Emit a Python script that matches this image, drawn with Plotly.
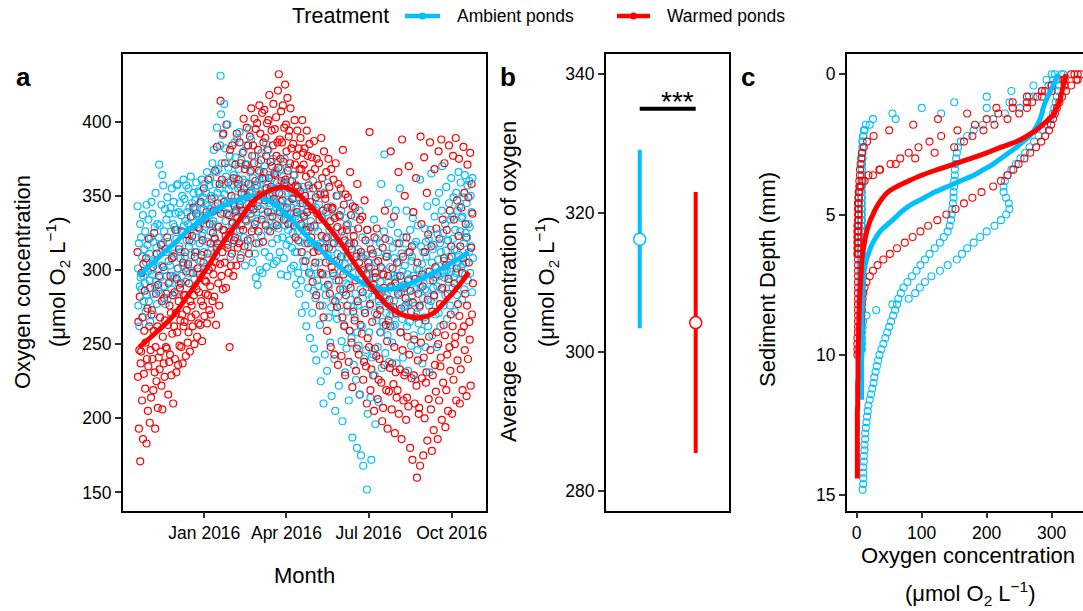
import numpy as np
import pandas as pd
import plotly.graph_objects as go

W, H = 1083, 611
AMB = "#00BFFF"
WRM = "#FF0000"
FONT = "Arial, 'Liberation Sans', sans-serif"
UNIT = "(μmol O<sub>2</sub> L<sup>−1</sup>)"

# ---------------- panel a: oxygen logger readings
# one row per 4-day block, readings 12 h apart inside a block
sample_start = "2015-10-19"
block_days = 4
reading_hours = 12
ambient_o2 = [
    [343, 301, 276, 318, 262, 289, 331, 295], [322, 287, 309, 268, 337, 296, 279, 314],
    [291, 326, 272, 305, 344, 283, 317, 299], [334, 279, 311, 293, 265, 322, 300, 346],
    [297, 338, 284, 319, 270, 306, 329, 289], [352, 292, 315, 277, 331, 301, 286, 322],
    [371, 330, 295, 312, 284, 344, 303, 364], [318, 357, 289, 326, 300, 341, 277, 312],
    [334, 296, 349, 281, 319, 306, 338, 292], [303, 342, 326, 287, 355, 314, 296, 331],
    [346, 311, 329, 295, 338, 284, 321, 357], [327, 358, 301, 339, 290, 316, 345, 308],
    [312, 337, 296, 350, 325, 303, 361, 330], [348, 309, 333, 292, 357, 320, 339, 301],
    [331, 355, 316, 342, 298, 327, 363, 310], [319, 345, 336, 304, 352, 329, 294, 341],
    [347, 322, 359, 312, 338, 299, 331, 353], [336, 352, 318, 345, 306, 333, 361, 323],
    [325, 349, 341, 312, 358, 335, 302, 344], [352, 331, 366, 319, 343, 308, 337, 357],
    [341, 362, 326, 350, 315, 339, 372, 331], [333, 381, 349, 322, 358, 343, 310, 366],
    [396, 352, 330, 368, 341, 317, 355, 384], [431, 405, 348, 372, 327, 391, 339, 358],
    [412, 351, 382, 333, 363, 318, 345, 398], [338, 369, 354, 323, 377, 346, 309, 360],
    [357, 331, 372, 345, 318, 364, 339, 386], [349, 376, 330, 362, 341, 389, 321, 355],
    [368, 342, 393, 327, 356, 310, 374, 347], [336, 361, 348, 380, 322, 352, 303, 371],
    [359, 384, 333, 350, 371, 316, 345, 395], [341, 366, 321, 357, 388, 336, 352, 305],
    [362, 328, 348, 377, 311, 355, 295, 339], [333, 357, 290, 346, 372, 318, 361, 300],
    [366, 341, 323, 379, 350, 298, 337, 361], [344, 370, 312, 355, 331, 385, 302, 349],
    [358, 327, 381, 345, 309, 364, 336, 373], [339, 362, 318, 350, 375, 329, 304, 347],
    [355, 331, 367, 342, 306, 359, 321, 344], [328, 356, 339, 312, 368, 346, 297, 336],
    [351, 322, 343, 363, 308, 338, 375, 330], [334, 358, 317, 345, 296, 352, 327, 369],
    [346, 320, 360, 331, 301, 342, 315, 352], [325, 349, 303, 338, 364, 312, 336, 290],
    [341, 312, 355, 326, 298, 334, 284, 347], [319, 345, 293, 338, 271, 330, 356, 306],
    [337, 302, 352, 318, 276, 329, 262, 344], [310, 341, 288, 327, 355, 298, 254, 319],
    [333, 297, 346, 271, 318, 360, 286, 247], [302, 329, 281, 342, 239, 315, 293, 351],
    [326, 289, 344, 305, 263, 318, 225, 337], [297, 335, 276, 318, 210, 352, 288, 243],
    [321, 283, 339, 297, 232, 310, 359, 268], [289, 327, 306, 251, 343, 275, 215, 318],
    [314, 280, 336, 296, 240, 322, 205, 271], [293, 328, 267, 311, 350, 282, 222, 305],
    [318, 276, 299, 340, 252, 309, 198, 287], [285, 323, 263, 304, 231, 335, 291, 247],
    [309, 272, 331, 290, 212, 316, 259, 345], [280, 318, 254, 302, 187, 327, 275, 236],
    [303, 268, 336, 284, 226, 311, 180, 258], [276, 314, 249, 298, 340, 216, 287, 175],
    [299, 262, 322, 281, 168, 308, 240, 273], [271, 310, 246, 293, 152, 327, 203, 284],
    [297, 258, 318, 276, 214, 302, 172, 241], [282, 309, 243, 295, 334, 229, 271, 196],
    [305, 266, 321, 287, 248, 312, 211, 279], [276, 318, 292, 258, 358, 234, 301, 265],
    [297, 262, 326, 378, 281, 244, 309, 271], [283, 311, 256, 345, 292, 238, 320, 269],
    [302, 274, 331, 288, 251, 315, 262, 296], [279, 308, 263, 294, 340, 270, 237, 318],
    [296, 325, 272, 305, 283, 355, 258, 289], [285, 311, 267, 299, 241, 322, 290, 275],
    [303, 276, 318, 289, 340, 262, 297, 232], [278, 312, 294, 265, 327, 286, 249, 306],
    [309, 283, 335, 296, 256, 317, 276, 226], [287, 319, 270, 301, 246, 330, 292, 264],
    [300, 275, 361, 288, 316, 259, 304, 237], [281, 312, 295, 268, 328, 287, 248, 319],
    [309, 286, 343, 299, 262, 321, 276, 231], [293, 327, 279, 365, 305, 256, 314, 288],
    [317, 282, 336, 295, 270, 346, 301, 248], [289, 324, 307, 271, 352, 296, 318, 262],
    [312, 287, 340, 370, 298, 325, 276, 306], [295, 331, 283, 313, 356, 300, 267, 320],
    [320, 292, 345, 308, 276, 334, 299, 362], [301, 336, 288, 321, 349, 295, 314, 272],
    [327, 298, 352, 313, 283, 340, 305, 366], [310, 343, 293, 326, 359, 302, 335, 280],
    [336, 304, 349, 318, 287, 364, 297, 325], [305, 345, 322, 357, 293, 331, 312, 360],
    [329, 298, 350, 316, 339, 285, 362, 308],
]
warmed_o2 = [
    [312, 228, 265, 193, 246, 282, 171, 237], [245, 298, 212, 268, 186, 304, 230, 259],
    [286, 220, 251, 308, 183, 240, 274, 205], [235, 321, 262, 197, 288, 246, 214, 270],
    [273, 240, 302, 219, 259, 325, 231, 193], [248, 284, 225, 311, 262, 207, 290, 241],
    [296, 233, 268, 245, 317, 222, 279, 206], [255, 302, 237, 281, 228, 266, 314, 248],
    [284, 247, 322, 263, 216, 291, 238, 276], [243, 296, 271, 229, 308, 257, 283, 210],
    [309, 262, 285, 240, 327, 271, 231, 294], [258, 301, 236, 279, 314, 249, 288, 266],
    [291, 248, 326, 270, 237, 305, 262, 283], [265, 312, 283, 242, 299, 273, 324, 251],
    [304, 258, 291, 320, 245, 279, 336, 268], [276, 323, 262, 298, 342, 283, 250, 309],
    [312, 270, 338, 287, 255, 301, 329, 264], [285, 328, 297, 263, 346, 279, 310, 252],
    [320, 276, 305, 355, 269, 293, 334, 284], [292, 339, 264, 311, 283, 361, 300, 273],
    [331, 289, 318, 270, 348, 302, 279, 325], [297, 340, 282, 321, 367, 305, 263, 315],
    [383, 318, 345, 291, 329, 276, 358, 304], [414, 338, 296, 361, 312, 287, 392, 327],
    [346, 305, 372, 323, 288, 398, 338, 315], [317, 359, 298, 337, 248, 381, 326, 303],
    [350, 311, 384, 332, 296, 362, 320, 343], [322, 371, 340, 303, 392, 335, 315, 358],
    [361, 318, 386, 344, 308, 372, 330, 352], [340, 379, 327, 402, 355, 316, 368, 334],
    [371, 333, 396, 349, 320, 384, 358, 311], [352, 390, 338, 367, 409, 326, 377, 345],
    [384, 341, 372, 402, 331, 360, 395, 318], [357, 399, 343, 381, 326, 367, 411, 350],
    [392, 351, 374, 334, 406, 362, 319, 386], [366, 408, 347, 389, 330, 377, 355, 399],
    [381, 339, 401, 362, 418, 350, 326, 373], [356, 394, 370, 336, 384, 412, 348, 365],
    [395, 364, 345, 403, 377, 330, 386, 421], [369, 432, 352, 388, 339, 375, 407, 360],
    [386, 347, 411, 373, 334, 396, 359, 425], [361, 398, 380, 342, 416, 367, 331, 390],
    [394, 355, 372, 409, 338, 382, 360, 348], [348, 385, 364, 330, 401, 371, 322, 357],
    [377, 339, 394, 356, 320, 382, 349, 368], [353, 389, 331, 368, 312, 401, 345, 379],
    [371, 336, 382, 350, 306, 363, 327, 394], [339, 377, 318, 357, 298, 385, 346, 329],
    [365, 322, 376, 341, 292, 355, 312, 387], [330, 368, 305, 349, 283, 375, 338, 316],
    [357, 313, 372, 334, 276, 351, 298, 389], [323, 362, 297, 340, 268, 380, 315, 351],
    [348, 305, 366, 322, 259, 342, 290, 375], [315, 356, 284, 333, 248, 368, 302, 341],
    [342, 298, 361, 318, 243, 335, 279, 372], [306, 350, 275, 329, 236, 358, 293, 337],
    [336, 287, 355, 309, 242, 326, 268, 381], [297, 344, 262, 320, 229, 351, 283, 330],
    [327, 276, 349, 301, 238, 318, 259, 366], [288, 337, 251, 314, 221, 343, 272, 323],
    [318, 266, 342, 293, 232, 309, 247, 358], [279, 328, 243, 305, 216, 334, 263, 312],
    [309, 257, 336, 285, 226, 300, 238, 347], [271, 320, 235, 297, 210, 327, 254, 305],
    [302, 248, 393, 277, 219, 314, 233, 288], [265, 311, 229, 290, 205, 322, 247, 298],
    [295, 242, 328, 270, 213, 306, 226, 283], [240, 273, 258, 302, 224, 285, 198, 315],
    [207, 297, 288, 236, 340, 321, 263, 219], [309, 252, 193, 296, 266, 218, 280, 234],
    [262, 380, 289, 206, 237, 301, 275, 223], [336, 248, 190, 291, 231, 271, 214, 305],
    [219, 284, 366, 203, 318, 233, 296, 258], [274, 186, 388, 246, 309, 212, 288, 229],
    [350, 231, 281, 199, 322, 214, 255, 293], [208, 370, 243, 312, 180, 286, 272, 227],
    [316, 172, 278, 339, 229, 253, 210, 294], [268, 362, 222, 160, 305, 239, 284, 203],
    [207, 276, 168, 390, 251, 331, 227, 297], [289, 175, 241, 376, 200, 312, 266, 224],
    [231, 352, 185, 280, 324, 213, 255, 299], [386, 246, 206, 316, 178, 272, 229, 293],
    [192, 283, 368, 236, 302, 218, 328, 258], [297, 186, 250, 380, 212, 321, 277, 235],
    [241, 388, 199, 288, 334, 224, 263, 308], [372, 256, 194, 303, 219, 327, 243, 284],
    [205, 294, 384, 248, 340, 232, 270, 316], [309, 203, 262, 377, 226, 334, 291, 250],
    [255, 389, 212, 301, 347, 239, 277, 323], [375, 269, 210, 316, 233, 342, 258, 298],
    [219, 308, 383, 262, 352, 246, 284, 331], [322, 215, 276, 371, 240, 349, 305, 265],
    [253, 379, 222, 315, 358, 270, 338, 291],
]

# smoothed seasonal trends
ambient_trend_dates = [
    "2015-10-20", "2015-11-07", "2015-11-27", "2015-12-15", "2016-01-01", "2016-01-21", "2016-02-10",
    "2016-02-23", "2016-03-11", "2016-03-31", "2016-04-20", "2016-05-10", "2016-05-30", "2016-06-19",
    "2016-07-05", "2016-07-19", "2016-08-08", "2016-08-28", "2016-09-17", "2016-10-07", "2016-10-20",
]
ambient_trend = [296, 306, 317, 327, 335, 343, 348, 350, 347, 338, 325, 313, 302, 293,
                 288.5, 287, 289, 294, 300, 307, 312]
warmed_trend_dates = [
    "2015-10-21", "2015-11-07", "2015-11-26", "2015-12-14", "2016-01-02", "2016-01-21", "2016-02-08",
    "2016-02-22", "2016-03-05", "2016-03-19", "2016-03-31", "2016-04-12", "2016-04-26", "2016-05-12",
    "2016-05-29", "2016-06-17", "2016-07-05", "2016-07-24", "2016-08-11", "2016-08-29", "2016-09-11",
    "2016-09-24", "2016-10-07", "2016-10-20",
]
warmed_trend = [248, 257, 268, 283, 299.5, 318, 333, 345, 351, 355, 355.6, 352, 344, 333,
                320, 303, 288, 275, 269, 268, 271, 279, 288, 298.5]
month_ticks = ["2016-01-01", "2016-04-01", "2016-07-01", "2016-10-01"]

# ---------------- panel b: treatment means with intervals
treatments = ["Ambient ponds", "Warmed ponds"]
mean_o2 = [316.2, 304.2]
ci_low = [303.4, 285.4]
ci_high = [329.1, 323.0]
signif_label = "***"
signif_level = 335.0

# ---------------- panel c: sediment microprofiles (0.2 mm steps from the surface)
profile_step_mm = 0.2
ambient_profiles = [
    [300, 292, 272, 238, 200, 150, 100, 55, 25, 14, 11, 10, 9, 9, 9, 9,
     8, 8, 8, 8, 8, 8, 8, 8, 8, 8, 8, 8, 8, 8, 8, 8, 8, 8, 8, 8, 8, 8, 8, 8,
     7, 7, 7, 7, 7, 7, 7, 7, 7, 7],
    [315, 310, 300, 285, 265, 235, 200, 130, 60, 20, 12, 10, 9, 9, 8, 8, 8, 8, 8,
     7, 7, 7, 7, 7, 7, 7, 7, 7, 7, 7, 6, 6, 6, 6, 6, 6, 6, 6, 6, 6, 6, 6, 6, 6, 6, 6],
    [305, 302, 295, 285, 272, 262, 251, 228, 210, 194,
     180, 170, 160, 156, 154, 153, 152, 151, 151, 150,
     150, 149, 149, 148, 147, 146, 145, 143, 140, 134,
     128, 120, 112, 105, 98, 92, 85, 78, 72, 68,
     64, 62, 59, 56, 53, 50, 47, 44, 41, 38,
     35, 33, 31, 29, 27, 26, 24, 22, 20, 18,
     17, 16, 15, 14, 13, 13, 12, 12, 11, 11,
     10, 10, 10, 10, 9],
    [318, 315, 312, 310, 308, 306, 304, 302, 298, 293,
     287, 280, 273, 266, 259, 252, 245, 238, 232, 228,
     226, 226, 230, 234, 235, 230, 222, 212, 200, 190,
     180, 170, 162, 154, 140, 128, 115, 105, 97, 90,
     80, 55, 30, 15, 10, 9, 8, 8, 8, 8],
]
warmed_profiles = [
    [330, 318, 300, 285, 262, 240, 215, 170, 125, 87,
     50, 26, 16, 11, 8, 7, 6, 5, 5, 4,
     4, 4, 3, 3, 3, 3, 3, 2, 2, 2, 2, 2, 2],
    [335, 320, 300, 290, 278, 262, 240, 218, 200, 182,
     155, 130, 112, 95, 80, 67, 52, 36, 25, 12,
     6, 4, 3, 3, 3, 3, 3, 3, 3, 3,
     3, 3, 3, 2, 2, 2, 2, 2, 2, 2,
     2, 2, 2, 2, 2, 2, 2, 1, 1, 1, 1],
    [340, 338, 320, 300, 285, 270, 262, 250, 232, 212,
     195, 178, 165, 150, 120, 90, 60, 35, 18, 9,
     5, 3, 3, 2, 2, 2, 2, 1, 1, 1, 1, 1, 1],
    [345, 340, 330, 322, 316, 312, 308, 305, 302, 299,
     296, 290, 284, 276, 267, 258, 249, 241, 232, 222,
     210, 192, 178, 165, 152, 138, 124, 110, 98, 86,
     74, 62, 51, 41, 32, 25, 20, 15, 12, 10,
     9, 8, 8, 7, 7, 6, 6, 5, 5, 4, 4],
]
ambient_mean_profile = [
    310, 306, 302, 298, 294, 290, 287, 285, 282, 278,
    273, 266, 256, 246, 234, 222, 210, 195, 180, 160,
    140, 120, 104, 87, 74, 64, 55, 45, 36, 30,
    25, 21, 18, 15, 13, 11.5, 10.5, 10, 9.5, 9,
    9, 8.5, 8.5, 8, 8, 8, 8, 8, 8, 8,
    8, 7.5, 7.5, 7.5, 7.5, 7.5, 7.5, 7.5, 7.5,
]
warmed_mean_profile = [
    322, 320, 318, 316, 314, 312, 308, 304, 296, 286,
    276, 262, 246, 222, 200, 176, 150, 124, 100, 80,
    62, 48, 40, 34, 29, 25, 21, 18, 15.5, 13.5,
    12, 10.5, 9, 8, 7.5, 7, 6.5, 6, 5.5, 5,
    4.5, 4, 4, 3.5, 3.5, 3, 3, 3, 2.5, 2.5,
    2.5, 2, 2, 2, 2, 1.5, 1.5, 1.5, 1.5, 1.5,
    1, 1, 1, 1, 1, 1, 1, 1, 1, 1,
    1, 1, 1,
]


def depths(values):
    return np.round(np.arange(len(values)) * profile_step_mm, 2)


def px(x):
    return x / W


def py(y):
    return 1 - y / H


fig = go.Figure()

# ---- panel a points: both treatments interleaved in time order
t0 = pd.Timestamp(sample_start)
xs, ys, cols = [], [], []
for i, (amb_row, wrm_row) in enumerate(zip(ambient_o2, warmed_o2)):
    for k, (va, vw) in enumerate(zip(amb_row, wrm_row)):
        t = t0 + pd.Timedelta(days=i * block_days) + pd.Timedelta(hours=k * reading_hours)
        xs += [t, t]
        ys += [va, vw]
        cols += [AMB, WRM]
fig.add_trace(go.Scatter(
    x=xs, y=ys, mode="markers", xaxis="x", yaxis="y",
    marker=dict(symbol="circle-open", size=7, color=cols, line=dict(width=1.2)),
    hoverinfo="skip"))
fig.add_trace(go.Scatter(
    x=pd.to_datetime(ambient_trend_dates), y=ambient_trend, mode="lines", xaxis="x", yaxis="y",
    line=dict(color=AMB, width=5, shape="spline", smoothing=1.0), name=treatments[0]))
fig.add_trace(go.Scatter(
    x=pd.to_datetime(warmed_trend_dates), y=warmed_trend, mode="lines", xaxis="x", yaxis="y",
    line=dict(color=WRM, width=5, shape="spline", smoothing=1.0), name=treatments[1]))

# ---- panel b: means with intervals
for k, (c, m, lo, hi) in enumerate(zip([AMB, WRM], mean_o2, ci_low, ci_high)):
    fig.add_trace(go.Scatter(
        x=[k + 1], y=[m], mode="markers", xaxis="x2", yaxis="y2",
        error_y=dict(type="data", symmetric=False, array=[hi - m], arrayminus=[m - lo],
                     color=c, thickness=4, width=0),
        marker=dict(symbol="circle", size=12, color="white", line=dict(color=c, width=1.5)),
        name=treatments[k]))

# ---- panel c: individual profiles then treatment means
for prof in ambient_profiles:
    fig.add_trace(go.Scatter(
        x=prof, y=depths(prof), mode="markers", xaxis="x3", yaxis="y3",
        marker=dict(symbol="circle-open", size=7, color=AMB, line=dict(width=1.1))))
for prof in warmed_profiles:
    fig.add_trace(go.Scatter(
        x=prof, y=depths(prof), mode="markers", xaxis="x3", yaxis="y3",
        marker=dict(symbol="circle-open", size=7, color=WRM, line=dict(width=1.1))))
fig.add_trace(go.Scatter(
    x=ambient_mean_profile, y=depths(ambient_mean_profile), mode="lines", xaxis="x3", yaxis="y3",
    line=dict(color=AMB, width=5, shape="spline")))
fig.add_trace(go.Scatter(
    x=warmed_mean_profile, y=depths(warmed_mean_profile), mode="lines", xaxis="x3", yaxis="y3",
    line=dict(color=WRM, width=5, shape="spline")))

TOP, BOTTOM = 54, 510.7
ydom = [py(BOTTOM), py(TOP)]
axis_common = dict(
    showline=True, linecolor="black", linewidth=1.5, ticks="outside", ticklen=6,
    tickwidth=1.5, tickcolor="#333333", showgrid=False, zeroline=False,
    tickfont=dict(family=FONT, size=17.5, color="black"),
)

fig.update_layout(
    width=W, height=H, margin=dict(l=0, r=0, t=0, b=0),
    paper_bgcolor="white", plot_bgcolor="white", showlegend=False,
    font=dict(family=FONT, color="black"),
    xaxis=dict(axis_common, domain=[px(122.7), px(486)], anchor="y", type="date",
               range=["2015-10-02 14:00", "2016-11-08"], tickvals=month_ticks,
               tickformat="%b %Y", mirror=True),
    yaxis=dict(axis_common, domain=ydom, anchor="x", range=[137.7, 445.65],
               tickvals=[150, 200, 250, 300, 350, 400], mirror=True),
    xaxis2=dict(axis_common, domain=[px(605.7), px(728.7)], anchor="y2", range=[0.393, 2.589],
                ticks="", showticklabels=False, mirror=True),
    yaxis2=dict(axis_common, domain=ydom, anchor="x2", range=[277.1, 342.9],
                tickvals=[280, 300, 320, 340], mirror=True),
    xaxis3=dict(axis_common, domain=[px(846.7), 1.0], anchor="y3", range=[-15.4, 348.2],
                tickvals=[0, 100, 200, 300], mirror=True),
    yaxis3=dict(axis_common, domain=ydom, anchor="x3", range=[15.55, -0.72],
                tickvals=[0, 5, 10, 15], mirror=False),
)

# significance bar in panel b
fig.add_shape(type="line", xref="x2", yref="y2", x0=1, x1=2, y0=signif_level, y1=signif_level,
              line=dict(color="black", width=4))


def ann(text, x, y, size, angle=0, bold=False, xanchor="center"):
    if bold:
        text = f"<b>{text}</b>"
    fig.add_annotation(text=text, x=px(x), y=py(y), xref="paper", yref="paper",
                       showarrow=False, textangle=angle, xanchor=xanchor, yanchor="middle",
                       font=dict(family=FONT, size=size, color="black"))


ann(signif_label, 677, 101, 28)

# panel tags
ann("a", 23, 77, 26, bold=True)
ann("b", 508, 77, 26, bold=True)
ann("c", 748, 77, 26, bold=True)

# axis titles
ann("Month", 304, 575, 22)
ann("Oxygen concentration", 22, 282, 22, angle=-90)
ann(UNIT, 57, 282, 22, angle=-90)
ann("Average concentration of oxygen", 508, 282, 22, angle=-90)
ann(UNIT, 546, 282, 22, angle=-90)
ann("Sediment Depth (mm)", 767, 280, 22, angle=-90)
ann("Oxygen concentration", 968, 555, 22)
ann(UNIT, 970, 593, 22)

# legend drawn across the top
ann("Treatment", 290, 16, 21.5, xanchor="left")
for (x0, x1, tx, label, c) in [(405, 440, 455, treatments[0], AMB), (617, 650, 665, treatments[1], WRM)]:
    fig.add_shape(type="line", xref="paper", yref="paper", x0=px(x0), x1=px(x1), y0=py(16), y1=py(16),
                  line=dict(color=c, width=4.5))
    cx = (x0 + x1) / 2
    fig.add_shape(type="circle", xref="paper", yref="paper", x0=px(cx - 3.5), x1=px(cx + 3.5),
                  y0=py(19.5), y1=py(12.5), fillcolor=c, line=dict(color=c, width=0))
    ann(label, tx, 16, 17.5, xanchor="left")

fig.write_html("out.html")
